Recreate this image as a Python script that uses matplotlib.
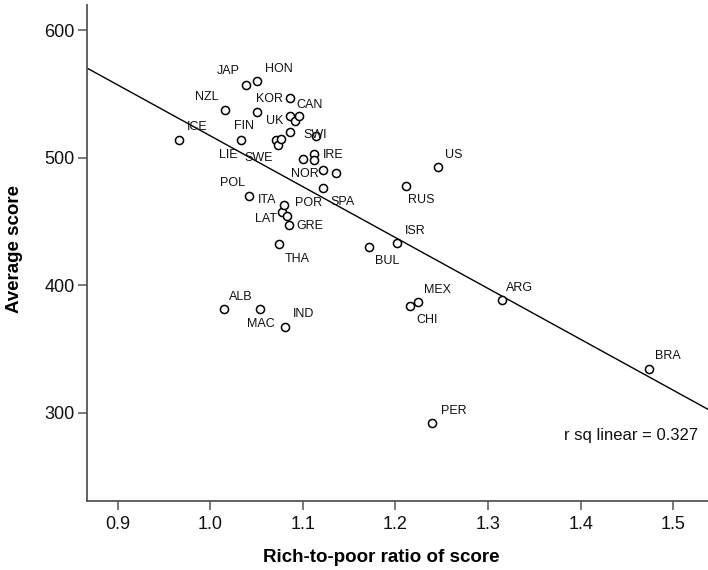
import numpy as np
import matplotlib
matplotlib.use("Agg")
import matplotlib.pyplot as plt

plt.rcParams['font.family'] = ['Liberation Sans', 'DejaVu Sans']

# Country codes, rich-to-poor ratio of score, and average score
countries = ["ICE", "NZL", "ALB", "LIE", "JAP", "POL", "HON", "FIN", "MAC",
             "DEN", "SWE", "THA", "AUT", "ITA", "LAT", "IND", "POR", "GRE",
             "KOR", "AUS", "BEL", "UK", "CAN", "NOR", "IRE", "CZE", "SWI",
             "SPA", "GER", "HUN", "BUL", "ISR", "RUS", "CHI", "MEX", "PER",
             "US", "ARG", "BRA"]
ratio = [0.966, 1.016, 1.015, 1.033, 1.039, 1.042, 1.050, 1.051, 1.054,
         1.071, 1.073, 1.074, 1.076, 1.0775, 1.080, 1.081, 1.083, 1.085,
         1.086, 1.086, 1.086, 1.092, 1.096, 1.100, 1.112, 1.112, 1.114,
         1.122, 1.122, 1.136, 1.171, 1.202, 1.211, 1.216, 1.224, 1.240,
         1.246, 1.315, 1.474]
score = [514, 537, 381, 514, 557, 470, 560, 536, 381,
         514, 510, 432, 515, 457, 463, 367, 454, 447,
         547, 533, 520, 529, 533, 499, 503, 498, 517,
         476, 490, 488, 430, 433, 478, 384, 387, 292,
         493, 388, 334]
r_squared = 0.327

# Label placement (pixel offsets from the marker) for the labelled countries
label_offsets = {
    "ICE": (18, 13), "NZL": (-18, 13), "ALB": (17, 12), "LIE": (-13, -15),
    "JAP": (-18, 14), "POL": (-17, 13), "HON": (22, 12), "FIN": (-13, -14),
    "MAC": (1, -15), "SWE": (-19, -13), "THA": (18, -15), "ITA": (-15, 12),
    "LAT": (-18, -14), "IND": (18, 13), "POR": (21, 13), "GRE": (21, -1),
    "KOR": (-20, -1), "UK": (-21, 0), "CAN": (10, 11), "NOR": (2, -15),
    "IRE": (19, -1), "SWI": (-1, 1), "SPA": (19, -14), "BUL": (19, -14),
    "ISR": (18, 12), "RUS": (16, -14), "CHI": (17, -14), "MEX": (20, 12),
    "PER": (21, 12), "US": (16, 12), "ARG": (18, 12), "BRA": (19, 13),
}

W, H = 708, 570
fig = plt.figure(figsize=(W / 100, H / 100), dpi=100)
ax_left, ax_bottom, ax_top = 86.7, 501.0, 5.4
ax = fig.add_axes([ax_left / W, 1 - ax_bottom / H, (W - ax_left) / W,
                   (ax_bottom - ax_top) / H])

xlim = (0.8666, 1.5376)
ylim = (230.7, 619.4)
ax.set_xlim(*xlim)
ax.set_ylim(*ylim)

# Least-squares fit line across the full x range
slope, intercept = np.polyfit(ratio, score, 1)
xs = np.array(xlim)
ax.plot(xs, intercept + slope * xs, color="black", lw=1.0, zorder=2)

ax.scatter(ratio, score, s=34, facecolor="white", edgecolor="black",
           linewidths=1.1, zorder=3)

for c, x, y in zip(countries, ratio, score):
    if c in label_offsets:
        dx, dy = label_offsets[c]
        ax.annotate(c, (x, y), xytext=(dx, dy), textcoords="offset pixels",
                    ha="center", va="center", fontsize=9, color="#111111",
                    zorder=4)

ax.text(0.9845, 0.132, f"r sq linear = {r_squared}", transform=ax.transAxes,
        ha="right", va="center", fontsize=12, color="#111111")

for side in ("top", "right"):
    ax.spines[side].set_visible(False)
for side in ("left", "bottom"):
    ax.spines[side].set_color("#555555")
    ax.spines[side].set_linewidth(1.3)

ax.set_xticks([0.9, 1.0, 1.1, 1.2, 1.3, 1.4, 1.5])
ax.set_xticklabels(["0.9", "1.0", "1.1", "1.2", "1.3", "1.4", "1.5"])
ax.set_yticks([300, 400, 500, 600])
ax.tick_params(axis="both", direction="out", length=6.5, width=1.1,
               color="#555555", labelsize=13, labelcolor="#111111")
ax.tick_params(axis="y", pad=2)
ax.tick_params(axis="x", pad=4)

ax.set_xlabel("Rich-to-poor ratio of score", fontsize=13.5, fontweight="bold")
ax.set_ylabel("Average score", fontsize=13.5, fontweight="bold")
plot_w, plot_h = W - ax_left, ax_bottom - ax_top
ax.xaxis.set_label_coords((381 - ax_left) / plot_w, (ax_bottom - 557) / plot_h)
ax.xaxis.label.set_va("center")
ax.yaxis.set_label_coords((14 - ax_left) / plot_w, (ax_bottom - 249) / plot_h)
ax.yaxis.label.set_va("center")

fig.savefig("out.png", dpi=100)
